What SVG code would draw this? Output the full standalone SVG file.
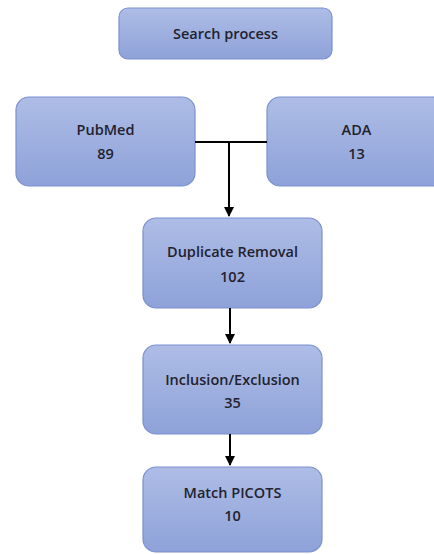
<svg xmlns="http://www.w3.org/2000/svg" width="434" height="554" viewBox="0 0 434 554">
<defs>
<linearGradient id="g" x1="0" y1="0" x2="0" y2="1">
<stop offset="0" stop-color="#aebde6"/>
<stop offset="1" stop-color="#8ea2d9"/>
</linearGradient>
<marker id="ah" viewBox="0 0 10 10" refX="9" refY="5" markerWidth="5" markerHeight="5" orient="auto" markerUnits="strokeWidth">
<path d="M0,0 L10,5 L0,10 z" fill="#000"/>
</marker>
<style>
.box{fill:url(#g);stroke:#7b90cf;stroke-width:1.2}
.t{font-family:"Open Sans","Liberation Sans",Arial,sans-serif;font-size:14.5px;font-weight:600;fill:#22222e;text-anchor:middle}
.c{fill:none;stroke:#000;stroke-width:2}
</style>
</defs>
<g id="search">
<rect class="box" x="119" y="8" width="213" height="51" rx="9"/>
<text class="t" x="225.5" y="38.5">Search process</text>
</g>
<g id="pubmed">
<rect class="box" x="16" y="97" width="179" height="89" rx="13"/>
<text class="t" x="105.5" y="134.5">PubMed</text>
<text class="t" x="105.5" y="158.5">89</text>
</g>
<g id="ada">
<rect class="box" x="267" y="97" width="179" height="89" rx="13"/>
<text class="t" x="356.5" y="134.5">ADA</text>
<text class="t" x="356.5" y="158.5">13</text>
</g>
<g id="dup">
<rect class="box" x="143" y="218" width="179" height="90" rx="13"/>
<text class="t" x="232.5" y="256.5">Duplicate Removal</text>
<text class="t" x="232.5" y="281.5">102</text>
</g>
<g id="incl">
<rect class="box" x="143" y="345" width="179" height="89" rx="13"/>
<text class="t" x="232.5" y="384.5">Inclusion/Exclusion</text>
<text class="t" x="232.5" y="407.5">35</text>
</g>
<g id="picots">
<rect class="box" x="143" y="467" width="179" height="85" rx="13"/>
<text class="t" x="232.5" y="497.5">Match PICOTS</text>
<text class="t" x="232.5" y="520.5">10</text>
</g>
<g id="connectors">
<path class="c" d="M195,142 H267"/>
<path class="c" d="M229,142 V216" marker-end="url(#ah)"/>
<path class="c" d="M230,308 V343" marker-end="url(#ah)"/>
<path class="c" d="M230,434 V465" marker-end="url(#ah)"/>
</g>
</svg>
